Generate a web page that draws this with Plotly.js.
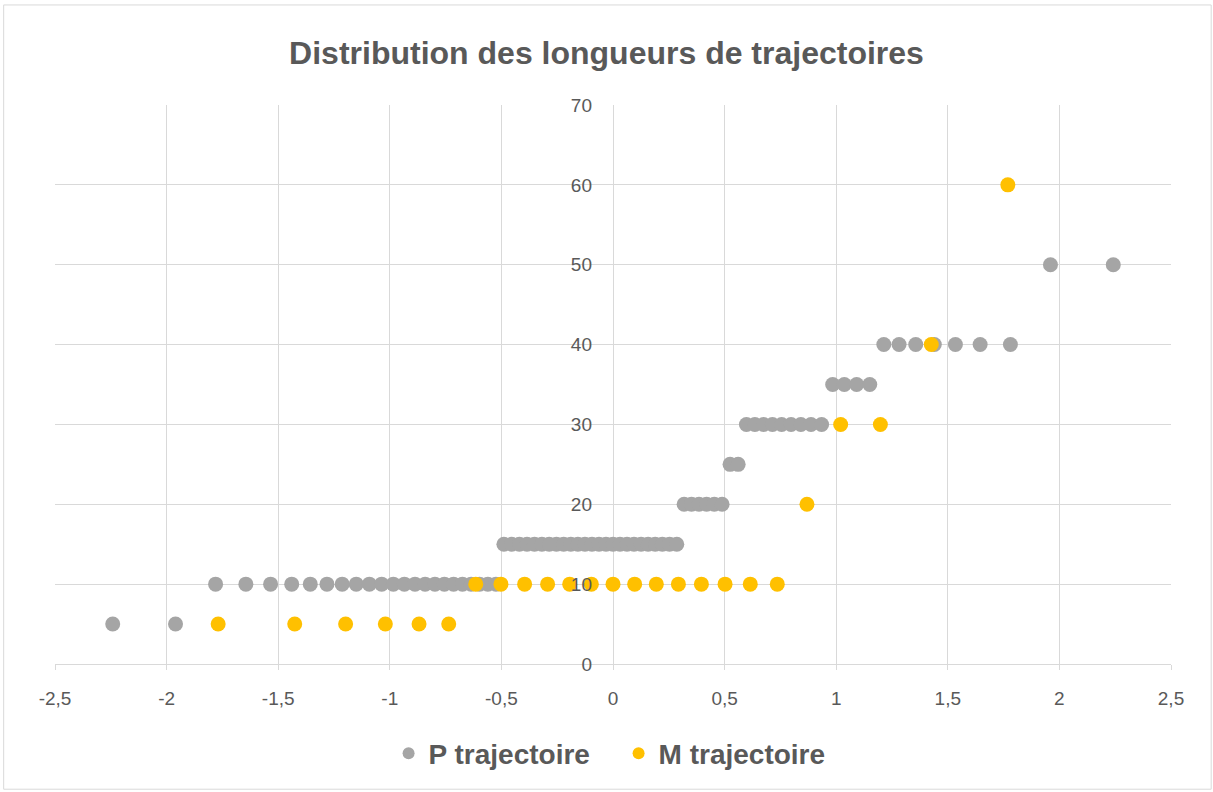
<!DOCTYPE html>
<html>
<head>
<meta charset="utf-8">
<script src="https://cdn.plot.ly/plotly-3.0.1.min.js"></script>
<style>html,body{margin:0;padding:0;background:#fff;}#chart{width:1213px;height:792px;}</style>
</head>
<body>
<div id="chart"></div>
<script>
// P trajectoire (79 points)
const pX = [-2.2414,-1.9600,-1.7805,-1.6449,-1.5341,-1.4395,-1.3563,-1.2816,-1.2133,-1.1503,
  -1.0916,-1.0364,-0.9842,-0.9346,-0.8871,-0.8416,-0.7978,-0.7554,-0.7144,-0.6745,
  -0.6356,-0.5978,-0.5607,-0.5244,-0.4888,-0.4538,-0.4193,-0.3853,-0.3518,-0.3186,
  -0.2858,-0.2533,-0.2211,-0.1891,-0.1573,-0.1257,-0.0942,-0.0627,-0.0313,0,
  0.0313,0.0627,0.0942,0.1257,0.1573,0.1891,0.2211,0.2533,0.2858,0.3186,
  0.3518,0.3853,0.4193,0.4538,0.4888,0.5244,0.5607,0.5978,0.6356,0.6745,
  0.7144,0.7554,0.7978,0.8416,0.8871,0.9346,0.9842,1.0364,1.0916,1.1503,
  1.2133,1.2816,1.3563,1.4395,1.5341,1.6449,1.7805,1.9600,2.2414];
const pY = [5,5,10,10,10,10,10,10,10,10,
  10,10,10,10,10,10,10,10,10,10,
  10,10,10,10,15,15,15,15,15,15,
  15,15,15,15,15,15,15,15,15,15,
  15,15,15,15,15,15,15,15,15,20,
  20,20,20,20,20,25,25,30,30,30,
  30,30,30,30,30,30,35,35,35,35,
  40,40,40,40,40,40,40,50,50];
// M trajectoire (25 points)
const mX = [-1.769,-1.426,-1.198,-1.020,-0.869,-0.736,-0.615,-0.502,-0.396,-0.293,
  -0.194,-0.097,0,0.097,0.194,0.293,0.396,0.502,0.615,0.736,
  0.869,1.020,1.198,1.426,1.769];
const mY = [5,5,5,5,5,5,10,10,10,10,
  10,10,10,10,10,10,10,10,10,10,
  20,30,30,40,60];
const xTickVals = [-2.5,-2,-1.5,-1,-0.5,0,0.5,1,1.5,2,2.5];
const xTickText = ['-2,5','-2','-1,5','-1','-0,5','0','0,5','1','1,5','2','2,5'];
const yTickVals = [0,10,20,30,40,50,60,70];
const seriesNames = ['P trajectoire','M trajectoire'];

const font = 'Liberation Sans, Arial, sans-serif';
const traces = [
  {x:pX, y:pY, name:seriesNames[0], type:'scatter', mode:'markers',
   marker:{color:'#A5A5A5', size:15}, cliponaxis:false},
  {x:mX, y:mY, name:seriesNames[1], type:'scatter', mode:'markers',
   marker:{color:'#FFC000', size:15}, cliponaxis:false}
];
const layout = {
  width:1213, height:792,
  margin:{l:55, r:42, t:105, b:128},
  paper_bgcolor:'#fff', plot_bgcolor:'#fff',
  showlegend:true, hovermode:false,
  title:{text:'<b>Distribution des longueurs de trajectoires</b>', x:0.5, xanchor:'center', y:0.933, yanchor:'middle',
    font:{family:font, size:32, color:'#595959'}},
  xaxis:{range:[-2.5,2.5], tickvals:xTickVals, ticktext:xTickText,
    showgrid:true, gridcolor:'#D9D9D9', gridwidth:1,
    zeroline:true, zerolinecolor:'#D9D9D9', zerolinewidth:1,
    showline:true, linecolor:'#D9D9D9', linewidth:1, mirror:false,
    ticks:'outside', ticklen:5, tickcolor:'#D9D9D9',
    ticklabelstandoff:12,
    tickfont:{family:font, size:19, color:'#595959'}},
  yaxis:{range:[0,70], tickvals:yTickVals, anchor:'free', position:0.5,
    showgrid:true, gridcolor:'#D9D9D9', gridwidth:1,
    zeroline:false, showline:false, ticks:'',
    ticklabelstandoff:21,
    tickfont:{family:font, size:19, color:'#595959'}},
  legend:{orientation:'h', x:0.505, xanchor:'center', y:-0.16, yanchor:'middle',
    entrywidth:185, entrywidthmode:'pixels',
    font:{family:font, size:28, color:'#595959', weight:'bold'}, itemsizing:'constant'},
  shapes:[{type:'rect', xref:'paper', yref:'paper', x0:-0.046, x1:1.036, y0:-0.224, y1:1.179,
    line:{color:'#D9D9D9', width:1}, fillcolor:'rgba(0,0,0,0)', layer:'below'}]
};
Plotly.newPlot('chart', traces, layout, {displayModeBar:false, staticPlot:true});
</script>
</body>
</html>
